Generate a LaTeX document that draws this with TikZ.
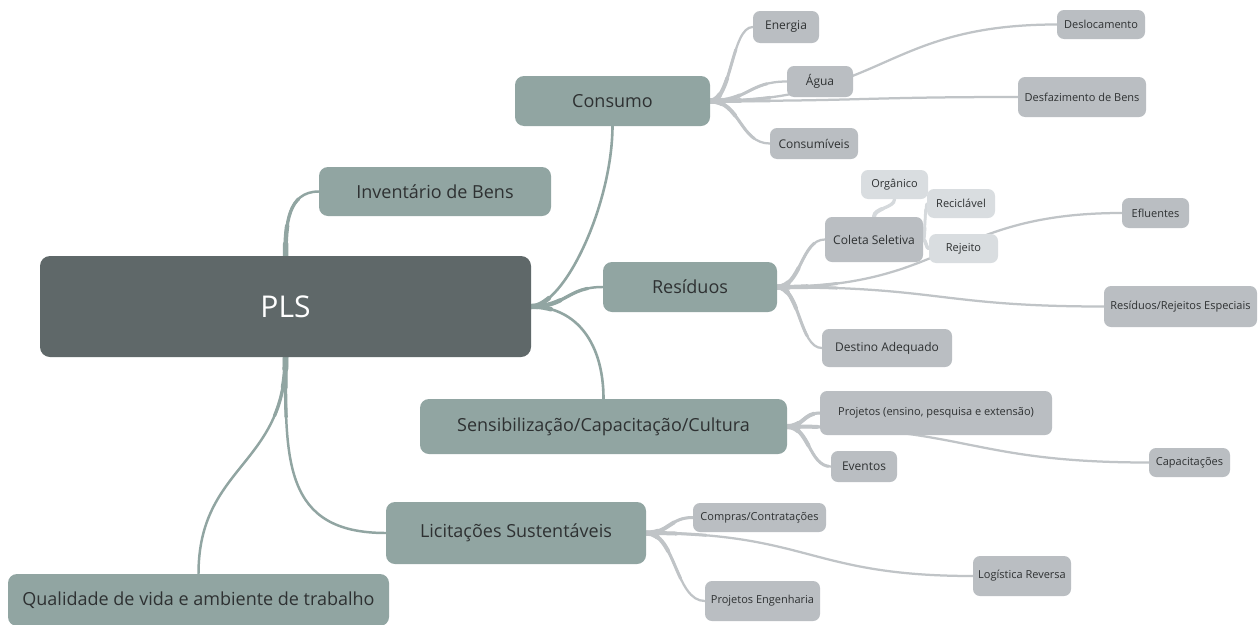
\documentclass[tikz,border=0pt]{standalone}
\usepackage{fontspec}
\setmainfont{Open Sans}
\usetikzlibrary{backgrounds,calc}
\definecolor{c0}{HTML}{5F6869}
\definecolor{c1}{HTML}{91A5A2}
\definecolor{c2}{HTML}{BABEC2}
\definecolor{c3}{HTML}{D9DDE0}
\definecolor{k2}{HTML}{C0C4C7}
\definecolor{k3}{HTML}{D5D9DC}
\definecolor{tx}{HTML}{2E3132}
\newcommand\lnk[5]{%
  \draw[#1, line width=0.45*#2, line cap=round] (#3) to[#4] (#5);
  \draw[#1, line width=0.6*#2, line cap=round, dash pattern=on 60pt off 9000pt] (#3) to[#4] (#5);
  \draw[#1, line width=0.8*#2, line cap=round, dash pattern=on 30pt off 9000pt] (#3) to[#4] (#5);
  \draw[#1, line width=#2, line cap=round, dash pattern=on 12pt off 9000pt] (#3) to[#4] (#5);
}
\tikzset{
  hv/.style={to path={let \p1=(\tikztostart), \p2=(\tikztotarget) in
     .. controls ({(\x1+\x2)/2},\y1) and ({(\x1+\x2)/2},\y2) .. (\tikztotarget)}},
  vh/.style={to path={let \p1=(\tikztostart), \p2=(\tikztotarget) in
     .. controls (\x1,{(\y1+\y2)/2}) and (\x2,{(\y1+\y2)/2}) .. (\tikztotarget)}},
  box/.style={inner sep=0pt, align=center, text=tx},
  l0/.style={box, fill=c0, text=white, rounded corners=10pt, font=\fontsize{30}{34}\selectfont},
  l1/.style={box, fill=c1, rounded corners=9pt, font=\fontsize{18}{22}\selectfont},
  l2/.style={box, fill=c2, rounded corners=7pt, font=\fontsize{12}{14}\selectfont},
  l2s/.style={box, fill=c2, rounded corners=7pt, font=\fontsize{11}{13}\selectfont},
  l3/.style={box, fill=c3, rounded corners=7pt, font=\fontsize{11}{13}\selectfont},
}
\begin{document}
\begin{tikzpicture}[x=1pt,y=-1pt]
\useasboundingbox (0,0) rectangle (1260,624);
% root
\node[l0, minimum width=491pt, minimum height=101pt] (pls) at (285.5,306.5) {PLS};
% level 1
\node[l1, minimum width=232pt, minimum height=49pt] (inv) at (435,191.5) {Inventário de Bens};
\node[l1, minimum width=195pt, minimum height=50pt] (cons) at (612.5,101) {Consumo};
\node[l1, minimum width=174pt, minimum height=50pt] (res) at (690,287) {Resíduos};
\node[l1, minimum width=367pt, minimum height=55pt] (sens) at (603.5,426.5) {Sensibilização/Capacitação/Cultura};
\node[l1, minimum width=260pt, minimum height=62pt] (lic) at (516,533) {Licitações Sustentáveis};
\node[l1, minimum width=381pt, minimum height=52pt] (qual) at (198.5,600) {Qualidade de vida e ambiente de trabalho};
% level 2 - consumo
\node[l2, minimum width=66pt, minimum height=32pt] (ener) at (786,27) {Energia};
\node[l2, minimum width=66pt, minimum height=31pt] (agua) at (820,81.5) {Água};
\node[l2, minimum width=88pt, minimum height=31pt] (consv) at (814,143.5) {Consumíveis};
\node[l2s, minimum width=88pt, minimum height=29pt] (desl) at (1101,24.5) {Deslocamento};
\node[l2s, minimum width=128pt, minimum height=40pt] (desf) at (1082,97) {Desfazimento de Bens};
% level 2 - residuos
\node[l2, minimum width=98pt, minimum height=45pt] (col) at (874,239.5) {Coleta Seletiva};
\node[l2s, minimum width=67pt, minimum height=30pt] (eflu) at (1155.5,213) {Efluentes};
\node[l2s, minimum width=153pt, minimum height=41pt] (rre) at (1180.5,306.5) {Resíduos/Rejeitos Especiais};
\node[l2, minimum width=130pt, minimum height=38pt] (dest) at (887,348) {Destino Adequado};
% level 3
\node[l3, minimum width=67pt, minimum height=29pt] (org) at (894.5,184.5) {Orgânico};
\node[l3, minimum width=68pt, minimum height=29pt] (rec) at (961,203.5) {Reciclável};
\node[l3, minimum width=69pt, minimum height=29pt] (rej) at (963.5,248.5) {Rejeito};
% level 2 - sensibilizacao
\node[l2s, minimum width=232pt, minimum height=44pt] (proj) at (936,413) {Projetos (ensino, pesquisa e extensão)};
\node[l2, minimum width=66pt, minimum height=31pt] (ev) at (864,466.5) {Eventos};
\node[l2s, minimum width=81pt, minimum height=29pt] (cap) at (1189.5,462.5) {Capacitações};
% level 2 - licitacoes
\node[l2s, minimum width=133pt, minimum height=29pt] (comp) at (759.5,517.5) {Compras/Contratações};
\node[l2s, minimum width=98pt, minimum height=40pt] (log) at (1022,576) {Logística Reversa};
\node[l2s, minimum width=115pt, minimum height=40pt] (peng) at (762.5,601) {Projetos Engenharia};
\begin{pgfonlayer}{background}
\fill[white] (0,0) rectangle (1260,624);
% root links
\lnk{c1}{5.5pt}{pls.north}{out=90,in=180,looseness=1.1}{inv.west}
\lnk{c1}{5.5pt}{pls.east}{hv}{res.west}
\draw[c1, line width=2.6pt] (pls.east) .. controls (565,305) and (612,205) .. (cons.south);
\draw[c1, line width=4.5pt, dash pattern=on 20pt off 9000pt, line cap=round] (pls.east) .. controls (565,305) and (612,205) .. (cons.south);
\draw[c1, line width=2.6pt] (pls.east) .. controls (578,307) and (603.5,345) .. (sens.north);
\draw[c1, line width=4.5pt, dash pattern=on 20pt off 9000pt, line cap=round] (pls.east) .. controls (578,307) and (603.5,345) .. (sens.north);
\lnk{c1}{5.5pt}{pls.south}{out=-90,in=180,looseness=1.3}{lic.west}
\lnk{c1}{5.5pt}{pls.south}{vh}{qual.north}
% consumo links
\lnk{k2}{5pt}{cons.east}{hv}{ener.west}
\lnk{k2}{5pt}{cons.east}{hv}{agua.west}
\lnk{k2}{5pt}{cons.east}{hv}{consv.west}
\lnk{k2}{5pt}{cons.east}{hv}{desl.west}
\lnk{k2}{5pt}{cons.east}{hv}{desf.west}
% residuos links
\lnk{k2}{5pt}{res.east}{hv}{col.west}
\lnk{k2}{5pt}{res.east}{hv}{eflu.west}
\lnk{k2}{5pt}{res.east}{hv}{rre.west}
\lnk{k2}{5pt}{res.east}{hv}{dest.west}
% coleta links
\lnk{k3}{4pt}{col.north}{vh}{org.south}
\lnk{k3}{3.5pt}{col.east}{hv}{rec.west}
\lnk{k3}{3.5pt}{col.east}{hv}{rej.west}
% sensibilizacao links
\lnk{k2}{5pt}{sens.east}{hv}{proj.west}
\lnk{k2}{5pt}{sens.east}{hv}{ev.west}
\lnk{k2}{5pt}{sens.east}{hv}{cap.west}
% licitacoes links
\lnk{k2}{5pt}{lic.east}{hv}{comp.west}
\lnk{k2}{5pt}{lic.east}{hv}{log.west}
\lnk{k2}{5pt}{lic.east}{hv}{peng.west}
\end{pgfonlayer}
\end{tikzpicture}
\end{document}
